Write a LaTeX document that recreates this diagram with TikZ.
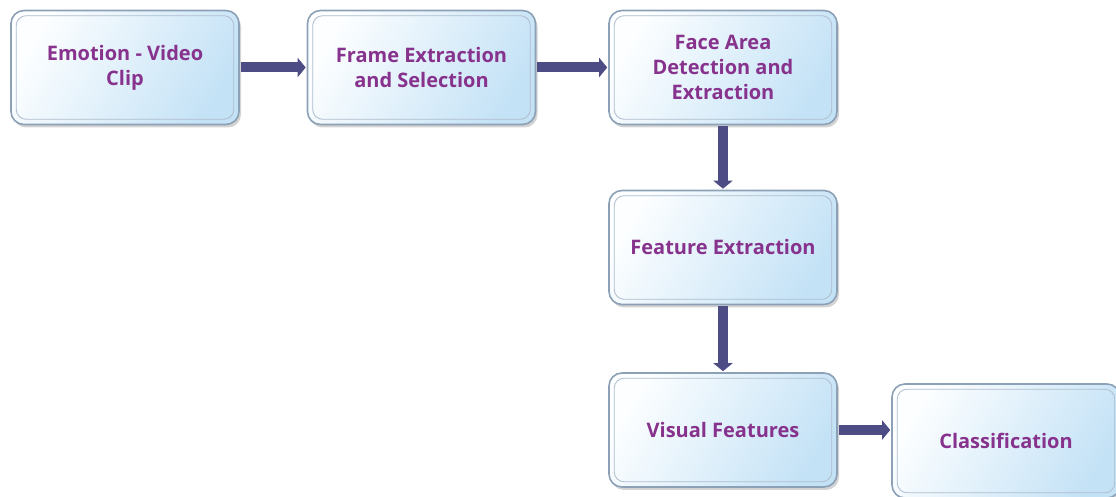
\documentclass[tikz,border=0pt]{standalone}
\usepackage{fontspec}
\setmainfont{Open Sans}
\usetikzlibrary{arrows.meta,shadows,calc}
\definecolor{boxedge}{RGB}{140,160,182}
\definecolor{boxlight}{RGB}{252,254,255}
\definecolor{boxblue}{RGB}{196,226,246}
\definecolor{labelpurple}{RGB}{135,50,140}
\definecolor{arrowblue}{RGB}{78,76,132}
\tikzset{
  x=1pt, y=1pt,
  stage/.style={
    draw=boxedge, line width=1.6pt, rounded corners=13pt,
    minimum width=228pt, minimum height=114pt,
    left color=boxlight, right color=boxblue, shading angle=60,
    drop shadow={opacity=0.35, shadow xshift=2pt, shadow yshift=-3pt},
    align=center, text=labelpurple,
    font=\fontsize{20}{25}\selectfont\bfseries, inner sep=0pt
  },
  innerframe/.style={draw=boxedge!70, line width=0.8pt, rounded corners=10pt},
  flow/.style={draw=arrowblue, line width=10pt,
    -{Triangle[length=8pt,width=19pt]}, shorten <=1pt, shorten >=1pt}
}
\begin{document}
\begin{tikzpicture}
\useasboundingbox (0,0) rectangle (1116,497);
\clip (0,0) rectangle (1116,497);
\node[stage] (clip)     at (125,429.5)   {Emotion - Video\\Clip};
\node[stage] (frames)   at (421.5,429.5) {Frame Extraction\\and Selection};
\node[stage] (face)     at (723,429.5)   {Face Area\\Detection and\\Extraction};
\node[stage] (features) at (723,249.5)   {Feature Extraction};
\node[stage] (visual)   at (723,67)      {Visual Features};
\node[stage] (classify) at (1006,56)     {Classification};
% inner frame lines
\foreach \b in {clip,frames,face,features,visual,classify}{
  \draw[innerframe] ([shift={(6pt,-6pt)}]\b.north west) rectangle ([shift={(-6pt,6pt)}]\b.south east);
}
% connectors
\draw[flow] (clip.east) -- (frames.west);
\draw[flow] (frames.east) -- (face.west);
\draw[flow] (face.south) -- (features.north);
\draw[flow] (features.south) -- (visual.north);
\draw[flow] (visual.east) -- (visual.east -| classify.west);
\end{tikzpicture}
\end{document}
